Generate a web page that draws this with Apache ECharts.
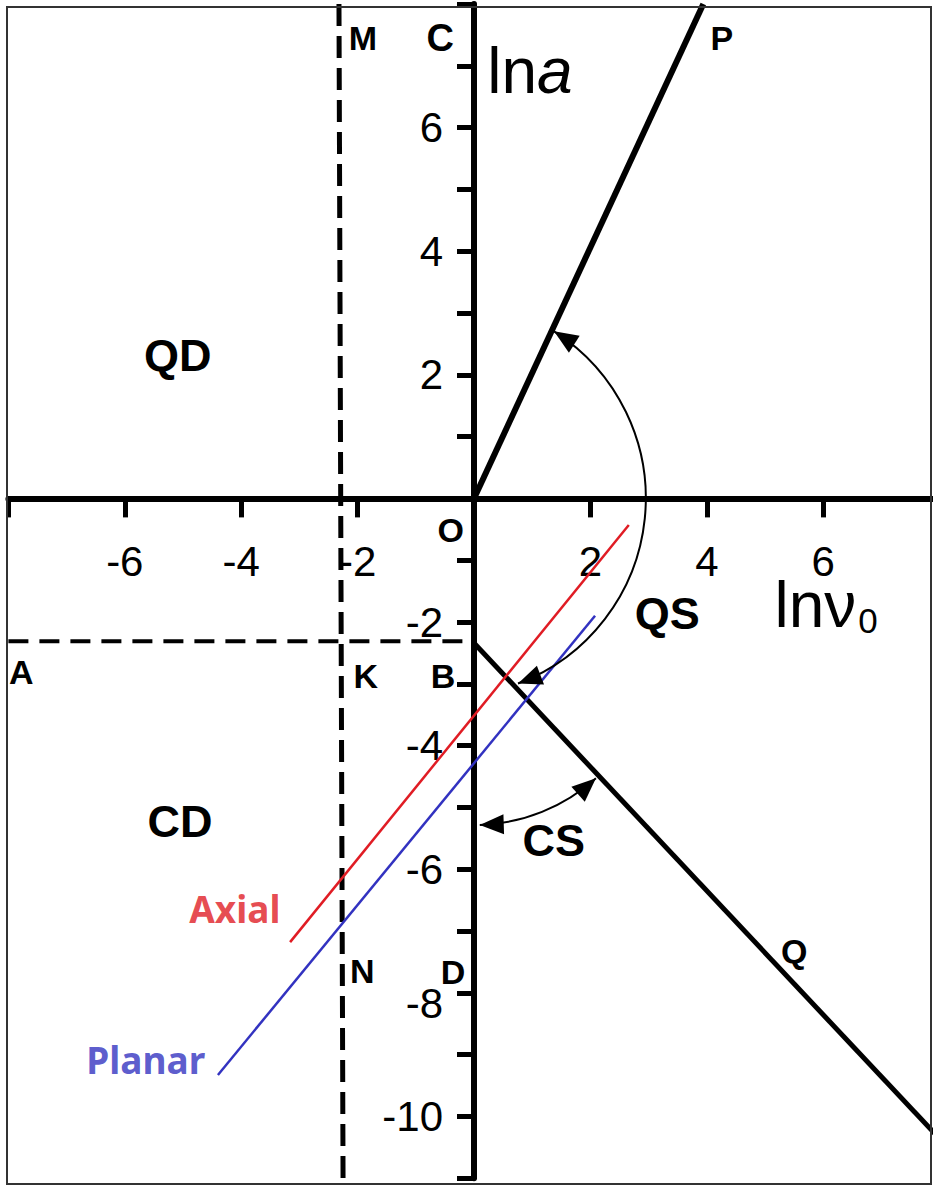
<!DOCTYPE html>
<html>
<head>
<meta charset="utf-8">
<script src="https://cdn.jsdelivr.net/npm/echarts@6/dist/echarts.min.js"></script>
<style>
  html, body { margin: 0; padding: 0; background: #fff; }
  #chart { width: 933px; height: 1187px; }
</style>
</head>
<body>
<div id="chart"></div>
<script>
// Axis ranges and labelled ticks (ln v0 across, ln a up)
const xRange = [-8, 8];
const yRange = [-11, 8];
const xTickLabels = [-6, -4, -2, 2, 4, 6];
const yTickLabels = [6, 4, 2, -2, -4, -6, -8, -10];

// Regime boundaries
const lineOP = [[0, 0], [3.94, 8]];
const lineBQ = [[0, -2.34], [8, -10.36]];
const lineAK = [[-8, -2.31], [-0.15, -2.31]];
const lineMN = [[-2.32, 8], [-2.25, -11]];

// Slip lines for the two orientations
const axialLine = [[-3.16, -7.18], [2.66, -0.43]];
const planarLine = [[-4.40, -9.33], [2.08, -1.90]];

// Text annotations, anchored in axis units
const annotations = [
  { text: 'M', at: [-1.91, 7.45], kind: 'letter' },
  { text: 'C', at: [-0.58, 7.45], kind: 'letterBig' },
  { text: 'P', at: [4.26, 7.45], kind: 'letter' },
  { text: '{n|ln}{i|a}', at: [0.96, 6.92], kind: 'lna' },
  { text: 'QD', at: [-5.09, 2.32], kind: 'region' },
  { text: 'O', at: [-0.40, -0.51], kind: 'letter' },
  { text: 'QS', at: [3.32, -1.87], kind: 'region' },
  { text: '{n|lnν}{s|0}', at: [6.05, -1.73], kind: 'lnv' },
  { text: 'A', at: [-7.78, -2.81], kind: 'letter' },
  { text: 'K', at: [-1.86, -2.87], kind: 'letter' },
  { text: 'B', at: [-0.53, -2.87], kind: 'letter' },
  { text: 'CD', at: [-5.05, -5.23], kind: 'region' },
  { text: 'CS', at: [1.37, -5.53], kind: 'region' },
  { text: 'Axial', at: [-4.11, -6.63], kind: 'axial' },
  { text: 'Planar', at: [-5.64, -9.08], kind: 'planar' },
  { text: 'N', at: [-1.92, -7.65], kind: 'letter' },
  { text: 'D', at: [-0.36, -7.66], kind: 'letter' },
  { text: 'Q', at: [5.50, -7.33], kind: 'letter' }
];

// Angle arrows: centre and end directions in axis units, radius in pixels
const arcs = [
  { center: [-0.45, 0], radius: 198, from: [1.335, 2.644], to: [0.72, -2.906] },
  { center: [0, -2.34], radius: 182, from: [2.05, -4.48], to: [0.10, -5.31] }
];

const INK = '#000';
const RED = '#e01c24';
const BLUE = '#3232c0';
const SANS = "'Liberation Sans', Arial, sans-serif";
const HUMANIST = "'Noto Sans', 'Open Sans', sans-serif";

// Plot frame in pixels; the axes cross at the origin inside it
const GRID = { left: 8.4, top: 4, width: 931.2, height: 1174.2 };

const baseText = { color: INK, textBorderWidth: 0, opacity: 1 };
const labelStyles = {
  letter: Object.assign({ fontFamily: SANS, fontWeight: 'bold', fontSize: 34 }, baseText),
  letterBig: Object.assign({ fontFamily: SANS, fontWeight: 'bold', fontSize: 38 }, baseText),
  region: Object.assign({ fontFamily: SANS, fontWeight: 'bold', fontSize: 45 }, baseText),
  axial: { fontFamily: HUMANIST, fontWeight: 'bold', fontSize: 37, color: RED, textBorderWidth: 0 },
  planar: { fontFamily: HUMANIST, fontWeight: 'bold', fontSize: 37, color: BLUE, textBorderWidth: 0 },
  lna: Object.assign({
    rich: {
      n: { fontFamily: SANS, fontSize: 64, color: INK },
      i: { fontFamily: SANS, fontSize: 64, fontStyle: 'italic', color: INK }
    }
  }, baseText),
  lnv: Object.assign({
    rich: {
      n: { fontFamily: SANS, fontSize: 64, lineHeight: 38, color: INK },
      s: { fontFamily: SANS, fontSize: 35, lineHeight: 8, color: INK, padding: [30, 0, 0, 2] }
    }
  }, baseText)
};

function lineSeries(data, color, width, dash) {
  return {
    type: 'line',
    data: data,
    symbol: 'none',
    silent: true,
    z: 3,
    lineStyle: { color: color, width: width, type: dash || 'solid', cap: 'butt' }
  };
}

function arrowHead(tip, d) {
  const L = 24, W = 10;
  const bx = tip[0] - d[0] * L, by = tip[1] - d[1] * L;
  return {
    type: 'polygon',
    shape: { points: [tip, [bx - d[1] * W, by + d[0] * W], [bx + d[1] * W, by - d[0] * W]] },
    style: { fill: INK }
  };
}

// Shift each axis from the grid edge to the origin
const xOrigin = GRID.left + GRID.width * (0 - xRange[0]) / (xRange[1] - xRange[0]);
const yOrigin = GRID.top + GRID.height * (yRange[1] - 0) / (yRange[1] - yRange[0]);
const xAxisOffset = -(GRID.top + GRID.height - yOrigin);
const yAxisOffset = -(xOrigin - GRID.left);

const chart = echarts.init(document.getElementById('chart'), null, { renderer: 'svg' });

chart.setOption({
  animation: false,
  backgroundColor: '#fff',
  grid: Object.assign({ containLabel: false, outerBoundsMode: 'none' }, GRID),
  xAxis: {
    type: 'value', min: xRange[0], max: xRange[1], interval: 2,
    position: 'bottom', offset: xAxisOffset,
    axisLine: { onZero: false, lineStyle: { color: INK, width: 6 } },
    axisTick: { show: true, length: 19, lineStyle: { color: INK, width: 5 } },
    splitLine: { show: false },
    axisLabel: {
      margin: 46, fontFamily: SANS, fontSize: 42, lineHeight: 34, color: INK,
      showMinLabel: true, showMaxLabel: true, hideOverlap: false,
      formatter: v => xTickLabels.includes(v) ? String(v) : ''
    }
  },
  yAxis: {
    type: 'value', min: yRange[0], max: yRange[1], interval: 1,
    position: 'left', offset: yAxisOffset,
    axisLine: { onZero: false, lineStyle: { color: INK, width: 6 } },
    axisTick: { show: true, length: 17, lineStyle: { color: INK, width: 5 } },
    splitLine: { show: false },
    axisLabel: {
      margin: 31, fontFamily: SANS, fontSize: 42, color: INK,
      showMinLabel: true, showMaxLabel: true, hideOverlap: false,
      formatter: v => {
        if (!yTickLabels.includes(v)) return '';
        return v === -8 ? '{low|' + v + '}' : String(v);
      },
      rich: { low: { fontFamily: SANS, fontSize: 42, color: INK, padding: [22, 0, 0, 0] } }
    }
  },
  graphic: [{
    type: 'rect', z: 100, silent: true,
    shape: { x: 7, y: 7, width: 924, height: 1177 },
    style: { fill: 'transparent', stroke: '#333', lineWidth: 2 }
  }],
  series: [
    lineSeries(lineAK, INK, 4, [20, 11]),
    lineSeries(lineMN, INK, 5, [22, 10]),
    lineSeries(lineOP, INK, 6),
    lineSeries(lineBQ, INK, 5),
    lineSeries(axialLine, RED, 2.5),
    lineSeries(planarLine, BLUE, 2.5),
    {
      type: 'custom',
      coordinateSystem: 'cartesian2d',
      silent: true,
      clip: false,
      z: 4,
      data: arcs.map(a => a.center),
      encode: { x: 0, y: 1 },
      renderItem: function (params, api) {
        const a = arcs[params.dataIndex];
        const c = api.coord(a.center);
        const p1 = api.coord(a.from);
        const p2 = api.coord(a.to);
        const a1 = Math.atan2(p1[1] - c[1], p1[0] - c[0]);
        const a2 = Math.atan2(p2[1] - c[1], p2[0] - c[0]);
        const r = a.radius;
        const tip1 = [c[0] + r * Math.cos(a1), c[1] + r * Math.sin(a1)];
        const tip2 = [c[0] + r * Math.cos(a2), c[1] + r * Math.sin(a2)];
        return {
          type: 'group',
          children: [
            {
              type: 'arc',
              shape: { cx: c[0], cy: c[1], r: r, startAngle: a1, endAngle: a2, clockwise: true },
              style: { stroke: INK, fill: 'none', lineWidth: 2 }
            },
            arrowHead(tip1, [Math.sin(a1), -Math.cos(a1)]),
            arrowHead(tip2, [-Math.sin(a2), Math.cos(a2)])
          ]
        };
      }
    },
    {
      type: 'scatter',
      silent: true,
      z: 10,
      symbolSize: 1,
      itemStyle: { color: 'transparent' },
      data: annotations.map(a => ({
        value: a.at,
        label: Object.assign({ show: true, position: 'inside', formatter: a.text }, labelStyles[a.kind])
      }))
    }
  ]
});
</script>
</body>
</html>
